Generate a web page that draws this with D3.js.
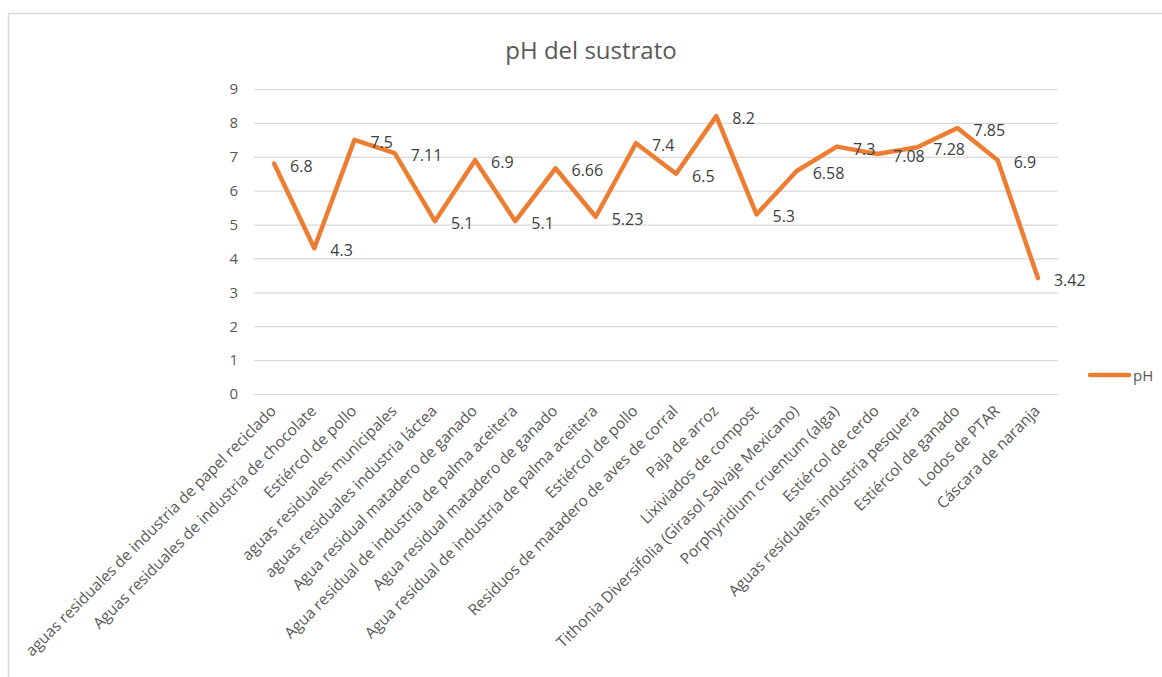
<!DOCTYPE html>
<html>
<head>
<meta charset="utf-8">
<script src="https://cdn.jsdelivr.net/npm/d3@7"></script>
<style>
  html, body { margin: 0; padding: 0; background: #fff; }
  svg { display: block; }
</style>
</head>
<body>
<script>
const categories = [
  "aguas residuales de industria de papel reciclado",
  "Aguas residuales de industria de chocolate",
  "Estiércol de pollo",
  "aguas residuales municipales",
  "aguas residuales industria láctea",
  "Agua residual matadero de ganado",
  "Agua residual de industria de palma aceitera",
  "Agua residual matadero de ganado",
  "Agua residual de industria de palma aceitera",
  "Estiércol de pollo",
  "Residuos de matadero de aves de corral",
  "Paja de arroz",
  "Lixiviados de compost",
  "Tithonia Diversifolia (Girasol Salvaje Mexicano)",
  "Porphyridium cruentum (alga)",
  "Estiércol de cerdo",
  "Aguas residuales industria pesquera",
  "Estiércol de ganado",
  "Lodos de PTAR",
  "Cáscara de naranja"
];
const phValues = [6.8, 4.3, 7.5, 7.11, 5.1, 6.9, 5.1, 6.66, 5.23, 7.4, 6.5, 8.2, 5.3, 6.58, 7.3, 7.08, 7.28, 7.85, 6.9, 3.42];
const valueLabels = ["6.8","4.3","7.5","7.11","5.1","6.9","5.1","6.66","5.23","7.4","6.5","8.2","5.3","6.58","7.3","7.08","7.28","7.85","6.9","3.42"];
const yTicks = [0,1,2,3,4,5,6,7,8,9];
const seriesName = "pH";
const chartTitle = "pH del sustrato";

const W = 1162, H = 677;
const FONT = "'Open Sans', 'Liberation Sans', sans-serif";
const orange = "#ED7D31";

const svg = d3.select("body").append("svg").attr("width", W).attr("height", H);

// chart frame
svg.append("rect").attr("x", 8.5).attr("y", 13.5).attr("width", 1170).attr("height", 680)
  .attr("fill", "#fff").attr("stroke", "#d9d9d9").attr("stroke-width", 1.5);

const plot = {left: 254, right: 1058, top: 89, bottom: 394};

const x = d3.scaleBand().domain(d3.range(categories.length)).range([plot.left, plot.right]);
const y = d3.scaleLinear().domain([0, 9]).range([plot.bottom, plot.top]);
const cx = i => x(i) + x.bandwidth() / 2;

// title
svg.append("text").attr("x", 591).attr("y", 59).attr("text-anchor", "middle")
  .attr("font-family", FONT).attr("font-size", 24).attr("fill", "#595959").text(chartTitle);

// gridlines + y axis labels
const yAxis = d3.axisLeft(y).tickValues(yTicks).tickSize(-(plot.right - plot.left)).tickPadding(16).tickFormat(d3.format("d"));
const gy = svg.append("g").attr("transform", `translate(${plot.left},0)`).call(yAxis);
gy.select(".domain").remove();
gy.selectAll(".tick line").attr("stroke", "#d9d9d9").attr("stroke-width", 1.2);
gy.selectAll(".tick text").attr("font-family", FONT).attr("font-size", 15).attr("fill", "#595959");

// x labels
const xAxis = d3.axisBottom(x).tickSize(0).tickFormat(i => categories[i]);
const gx = svg.append("g").attr("transform", `translate(0,${plot.bottom})`).call(xAxis);
gx.select(".domain").remove();
gx.selectAll(".tick text")
  .attr("font-family", FONT).attr("font-size", 15.5).attr("fill", "#595959")
  .attr("text-anchor", "end").attr("dy", null).attr("y", null)
  .attr("transform", "translate(3,18) rotate(-45)");

// line
const line = d3.line().x((d, i) => cx(i)).y(d => y(d));
svg.append("path").datum(phValues).attr("d", line)
  .attr("fill", "none").attr("stroke", orange).attr("stroke-width", 4.5)
  .attr("stroke-linejoin", "round").attr("stroke-linecap", "round");

// data labels
svg.append("g").selectAll("text").data(phValues).join("text")
  .attr("x", (d, i) => cx(i) + 16).attr("y", d => y(d) + 8)
  .attr("font-family", FONT).attr("font-size", 16).attr("fill", "#404040")
  .text((d, i) => valueLabels[i]);

// legend
svg.append("line").attr("x1", 1090).attr("x2", 1129).attr("y1", 375).attr("y2", 375)
  .attr("stroke", orange).attr("stroke-width", 4.5).attr("stroke-linecap", "round");
svg.append("text").attr("x", 1133).attr("y", 381).attr("font-family", FONT).attr("font-size", 15)
  .attr("fill", "#595959").text(seriesName);
</script>
</body>
</html>
